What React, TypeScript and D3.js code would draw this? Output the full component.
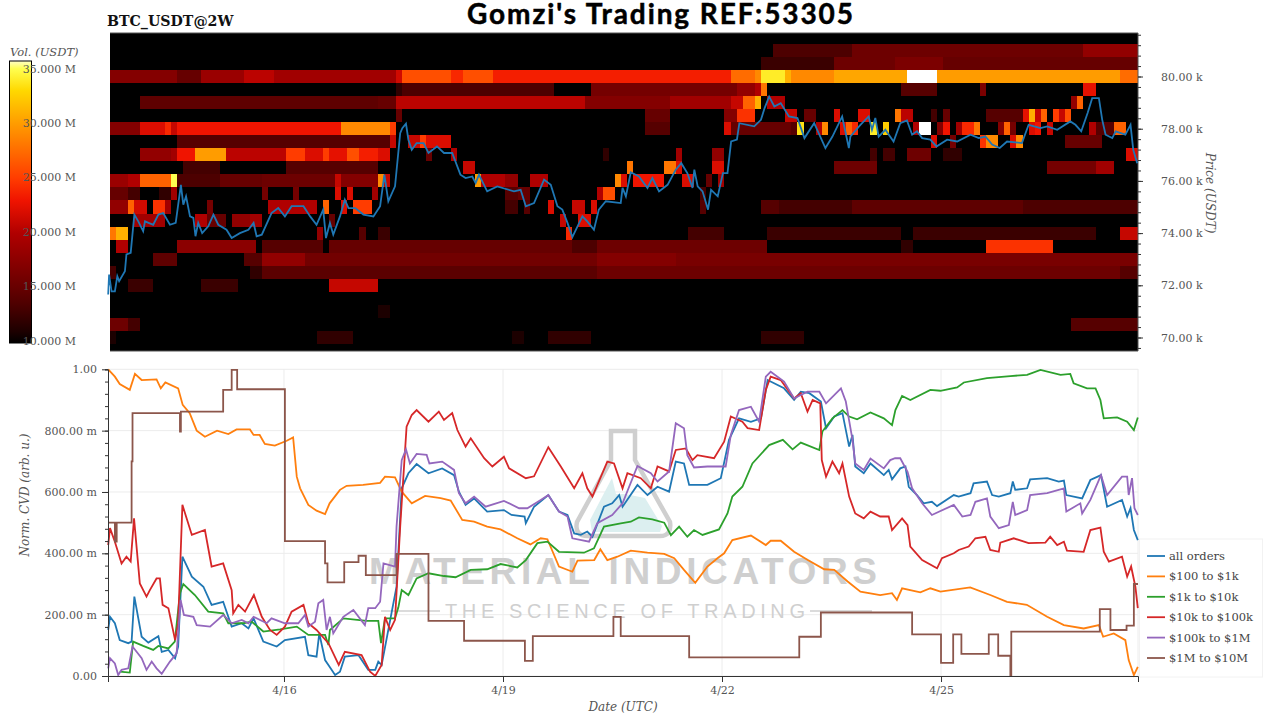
import React, { useEffect, useRef } from 'react';
import * as d3 from 'd3';

type Pt = [number, number];
type Run = [number, number, number];

// every time below is hours from 2024-04-16 00:00 UTC
const BASE = Date.UTC(2024, 3, 16);
const HOUR = 3600000;
const T_START = -57.86;
const T_END = 280.76;
const HEAT_START = -57.2;
const HEAT_COLS = 169;

const priceTicks = [70000, 72000, 74000, 76000, 78000, 80000];
const normTicks = [0, 0.2, 0.4, 0.6, 0.8, 1];
const volTicks = [10, 15, 20, 25, 30, 35];
const dateTicks = [0, 72, 144, 216];
const dateLabels = ['4/16', '4/19', '4/22', '4/25'];

const seriesNames = ['all orders', '$100 to $1k', '$1k to $10k', '$10k to $100k', '$100k to $1M', '$1M to $10M'];
const seriesColors = ['#1f77b4', '#ff7f0e', '#2ca02c', '#d62728', '#9467bd', '#8c564b'];

// price levels of the heatmap, with runs of [first column, end column, volume in M]
const heatPrices = [81000, 80500, 80000, 79500, 79000, 78500, 78000, 77500, 77000, 76500, 76000, 75500, 75000, 74500, 74000, 73500, 73000, 72500, 72000, 71000, 70500, 70000];
const heatRuns: Run[][] = [
  [[109, 122, 13.5], [122, 160, 15.5], [160, 169, 18]],
  [[107, 119, 12.5], [119, 129, 15.5], [129, 137, 16.5], [137, 169, 15]],
  [[0, 11, 17], [11, 15, 15], [15, 22, 18.5], [22, 27, 20.5], [27, 47, 19], [47, 48, 21.5], [48, 56, 26], [56, 58, 24], [58, 63, 26], [63, 102, 23.5], [102, 106, 27.5], [106, 107, 29], [107, 111, 34], [111, 112, 31], [112, 119, 29], [119, 131, 30.5], [131, 136, 37], [136, 166, 30], [166, 169, 27.5]],
  [[47, 48, 12], [48, 73, 13.5], [79, 103, 16], [103, 106, 18], [106, 107, 20], [107, 108, 28], [130, 136, 14], [143, 144, 16.5], [160, 162, 22.5]],
  [[5, 44, 14.5], [44, 47, 15], [47, 78, 20.5], [78, 92, 17], [92, 102, 19], [102, 104, 21], [104, 106, 27], [106, 107, 31], [108, 111, 20], [158, 159, 18], [159, 160, 27]],
  [[47, 48, 15], [88, 92, 15], [101, 103, 17], [103, 106, 24.5], [111, 113, 21], [114, 116, 15], [119, 120, 22], [123, 125, 22], [129, 130, 28], [130, 132, 20.5], [135, 136, 13], [137, 138, 15], [144, 150, 14], [150, 151, 22.5], [151, 152, 31], [152, 153, 21], [153, 154, 27], [155, 156, 25], [156, 157, 21], [157, 158, 26]],
  [[0, 5, 17], [5, 9, 22], [9, 10, 24], [10, 11, 21], [11, 38, 23], [38, 46, 29], [46, 47, 25], [88, 92, 14], [101, 102, 22], [102, 112, 15], [112, 113, 14], [113, 114, 33.5], [116, 117, 20], [117, 118, 29], [120, 121, 22], [121, 122, 27], [122, 123, 24], [125, 126, 34], [127, 128, 32.5], [132, 133, 20], [133, 135, 37], [136, 137, 17], [137, 138, 23], [139, 140, 19], [140, 142, 24], [142, 143, 28], [146, 147, 17], [147, 148, 27], [148, 149, 16], [151, 152, 22], [152, 153, 23], [154, 155, 21], [161, 162, 20], [162, 165, 14], [165, 167, 27]],
  [[11, 46, 14], [46, 47, 21], [49, 51, 21], [51, 52, 25], [52, 56, 22], [135, 136, 22], [138, 139, 16], [143, 144, 24.5], [144, 146, 29], [148, 149, 22], [149, 150, 29], [157, 163, 15]],
  [[5, 10, 18], [10, 11, 19], [11, 14, 23], [14, 19, 30], [19, 29, 20.5], [29, 32, 25], [32, 35, 22], [35, 36, 25], [36, 39, 22.5], [39, 41, 26], [41, 44, 23.5], [44, 46, 22], [52, 53, 15], [56, 57, 20], [81, 82, 12], [93, 94, 19], [99, 101, 18], [125, 126, 13], [127, 129, 13], [131, 135, 15.5], [137, 140, 12], [167, 169, 22]],
  [[12, 18, 13], [29, 44, 14], [58, 60, 21], [85, 86, 28], [91, 93, 28], [93, 94, 22], [99, 101, 22], [119, 126, 15.5], [154, 162, 16], [162, 165, 19]],
  [[0, 3, 18.5], [3, 5, 20], [5, 10, 27], [10, 11, 35], [11, 18, 13.5], [18, 25, 15], [25, 37, 15.5], [37, 38, 21], [38, 44, 17], [44, 45, 29], [45, 46, 21], [60, 61, 30], [61, 65, 20], [65, 67, 18], [69, 72, 20], [83, 84, 29], [84, 85, 22], [86, 91, 23], [94, 96, 22], [98, 99, 15], [100, 101, 19]],
  [[0, 3, 15], [3, 5, 13], [8, 10, 12], [10, 11, 19], [25, 26, 16], [30, 31, 16], [37, 38, 22], [39, 40, 22], [43, 44, 19], [65, 67, 14], [67, 69, 15], [80, 81, 20], [81, 83, 26], [97, 98, 13]],
  [[0, 3, 18], [3, 4, 27], [4, 6, 21.5], [7, 9, 24.5], [9, 10, 19], [16, 17, 16], [26, 34, 20], [35, 36, 27], [38, 39, 22], [40, 43, 25], [65, 67, 13], [68, 69, 14], [72, 73, 22], [76, 78, 21], [79, 80, 22], [97, 98, 14], [107, 110, 14], [110, 122, 13], [122, 150, 14.5], [150, 169, 13.5]],
  [[4, 9, 19], [14, 16, 20], [16, 19, 15], [20, 23, 18], [23, 25, 19], [36, 37, 15], [74, 75, 21], [77, 79, 22]],
  [[0, 1, 28], [1, 3, 31], [34, 35, 18], [41, 42, 14], [44, 46, 12.5], [75, 76, 24], [95, 101, 13], [108, 130, 12.5], [132, 162, 12.5], [166, 169, 21]],
  [[1, 3, 20], [11, 24, 17.5], [25, 35, 14], [36, 76, 15], [76, 80, 13.5], [80, 108, 15.5], [130, 132, 12], [144, 155, 24.5]],
  [[7, 11, 14.5], [22, 25, 14], [25, 32, 18], [32, 80, 15.8], [80, 93, 17], [93, 169, 16.3]],
  [[0, 1, 13], [23, 25, 12], [25, 80, 14.3], [80, 166, 15.5], [166, 169, 14]],
  [[3, 7, 12.5], [15, 21, 12.5], [36, 44, 21]],
  [[44, 46, 11]],
  [[0, 3, 15.5], [3, 5, 13], [158, 169, 14]],
  [[0, 1, 11], [34, 40, 12], [66, 68, 11], [72, 79, 12], [107, 114, 12]],
];

const priceLine: Pt[] = [
  [-57.8, 71650], [-57.5, 72410], [-56.7, 71770], [-55.6, 71770], [-54.8, 72350], [-54.2, 72160], [-52.3, 72540], [-51.8, 73180], [-50.4, 73240], [-49.2, 74710], [-47.9, 74450], [-46.3, 74070], [-45.7, 74450], [-43, 74320], [-41.3, 74710], [-39.7, 74770], [-37.5, 74320], [-35.6, 74390], [-33.9, 75850], [-33.1, 75090], [-32.2, 75410], [-30.9, 74640], [-29.8, 74580], [-29.1, 73880], [-28.2, 74390], [-26.9, 74000], [-24.9, 74260], [-23.2, 74710], [-21.6, 74320], [-18.9, 74130], [-17.2, 73810], [-14.5, 74000], [-11.7, 74130], [-10, 74390], [-9, 73880], [-7.3, 73940], [-4.1, 74770], [-1.9, 74960], [0.3, 74640], [2.5, 75030], [6.4, 75030], [8.6, 74640], [10.7, 74320], [12.9, 74900], [13.8, 73810], [15.1, 74390], [16.2, 73940], [18.4, 74640], [20, 75280], [21.2, 74960], [23.4, 74960], [26.1, 74710], [29.4, 74640], [31.6, 75030], [33, 76240], [34.3, 75220], [36.5, 75790], [38.2, 77830], [38.9, 78020], [40.1, 78190], [40.9, 77580], [42, 77190], [43.6, 77450], [45.9, 77450], [47.5, 77070],
  [50.3, 77320], [52.6, 77070], [55.3, 77070], [58, 76240], [59.7, 76110], [61.9, 76170], [63, 75920], [64.1, 76240], [66.8, 75600], [70.1, 75790], [75.6, 75600], [77.8, 75660], [79.5, 75030], [82.2, 75150], [85.5, 76050], [87.7, 75850], [89.9, 75030], [91.5, 74900], [93.2, 74390], [94.8, 73850], [96.5, 74260], [98.1, 74640], [99.7, 74450], [101.9, 74130], [103.5, 74900], [105.8, 75220], [110.7, 75150], [111.3, 75730], [112.4, 75410], [114, 76330], [116.7, 76170], [119.5, 75730], [121.1, 76110], [123.3, 75600], [126.1, 75850], [128.8, 76430], [130.6, 76680], [132.6, 76300], [134.3, 75730], [134.9, 76430], [136, 75790], [137.6, 75600], [139.4, 74900], [140.4, 75660], [142.6, 75410], [144.3, 76300], [145.8, 76300], [147, 77510], [148.9, 77580], [149.7, 78210], [154.6, 78090], [156.8, 78340], [158, 78790], [159.5, 79230], [161.2, 78850], [163.3, 78980], [166, 78470], [168.8, 78410], [171.1, 77640], [174.3, 78210], [178, 77260], [180.3, 77700], [183.5, 78470], [185.7, 77260],
  [186.2, 77700], [189.5, 78150], [192.2, 78470], [193.3, 77960], [194.4, 78410], [195.5, 77700], [197.7, 77960], [200.4, 77510], [202.6, 78210], [204.8, 78320], [206.5, 77770], [208.1, 77900], [209.8, 77640], [212.5, 77580], [214.5, 77320], [218, 77580], [221.3, 77510], [225.7, 77770], [228.4, 77640], [230.6, 77700], [232.8, 77390], [235.3, 77260], [237.7, 77510], [242.6, 77450], [244.8, 78150], [248.7, 78020], [250.9, 78090], [254.2, 77960], [258.5, 78280], [260.2, 78150], [262.1, 77900], [264.2, 78600], [265.7, 79170], [267.9, 79170], [269, 78340], [270.1, 77770], [272.3, 77640], [273.4, 77900], [276.6, 77770], [278.3, 78150], [279.2, 77190], [280.5, 76680],
];

const allOrders: Pt[] = [
  [-57.8, 0.15], [-57.2, 0.193], [-55.6, 0.172], [-54, 0.117], [-51.2, 0.107], [-50.1, 0.112], [-49.2, 0.259], [-46.8, 0.128], [-44.6, 0.109], [-41.3, 0.13], [-40.2, 0.079], [-38, 0.085], [-35.8, 0.058], [-34.8, 0.096], [-33.4, 0.389], [-30.3, 0.324], [-26.5, 0.291], [-23.8, 0.232], [-20, 0.242], [-17.2, 0.161], [-13.9, 0.172], [-11.7, 0.155], [-10, 0.188], [-6.8, 0.112], [-2.4, 0.096], [0.3, 0.117], [6.9, 0.128], [8, 0.068], [10.7, 0.063], [11.6, 0.139], [13.5, 0.052], [14.6, 0.036], [16.8, 0.003], [18.4, 0.014], [20, 0.063], [24.5, 0.068], [27.7, 0.02], [30, 0.02], [31, 0.047], [32.1, 0.036], [37, 0.291], [38.7, 0.612], [40.9, 0.661], [43.6, 0.691], [47.5, 0.661],
  [52, 0.677], [55.9, 0.655], [57.5, 0.601], [59.7, 0.558], [62.5, 0.579], [66.8, 0.536], [72.3, 0.541], [74.8, 0.525], [79.1, 0.52], [79.5, 0.498], [82.2, 0.552], [86.9, 0.59], [90.4, 0.536], [93.2, 0.525], [95.4, 0.465], [97.6, 0.46], [99.7, 0.471], [101.4, 0.454], [105.2, 0.552], [107.9, 0.563], [110.2, 0.59], [111.3, 0.552], [116.2, 0.623], [119.5, 0.59], [122.8, 0.617], [126.6, 0.601], [128.8, 0.699], [131.5, 0.693], [133.2, 0.623], [139.2, 0.623], [143.6, 0.645], [146.3, 0.77], [149.6, 0.84], [153.5, 0.829], [156.8, 0.84], [159, 0.965], [164.4, 0.938], [167.7, 0.9], [169.9, 0.927], [172.7, 0.922], [176.5, 0.895], [178.2, 0.808], [180.9, 0.846], [183.6, 0.857], [185.8, 0.748], [186.9, 0.786],
  [187.8, 0.683], [190.6, 0.661], [192.8, 0.693], [197.2, 0.655], [198.8, 0.672], [199.9, 0.641], [202.6, 0.677], [204.3, 0.683], [205.4, 0.617], [208.1, 0.59], [210.3, 0.563], [213, 0.568], [214.7, 0.554], [220.2, 0.59], [221.8, 0.585], [225.7, 0.596], [226.7, 0.628], [231.1, 0.634], [232.8, 0.59], [235, 0.585], [238.8, 0.596], [239.6, 0.634], [240.4, 0.607], [244.3, 0.612], [245.3, 0.641], [250.9, 0.645], [254.7, 0.634], [256.4, 0.637], [257.2, 0.59], [262.4, 0.579], [265.1, 0.639], [268.6, 0.655], [270.6, 0.552], [275.5, 0.574], [277.2, 0.52], [278.3, 0.547], [279.4, 0.476], [280.7, 0.443],
];

const small: Pt[] = [
  [-57.8, 1], [-55.6, 0.976], [-54, 0.952], [-50.7, 0.933], [-49, 0.985], [-46.8, 0.965], [-41.9, 0.967], [-40.5, 0.938], [-39, 0.957], [-34.8, 0.938], [-33.3, 0.884], [-31, 0.857], [-28.7, 0.8], [-26, 0.78], [-22, 0.8], [-18.3, 0.789], [-15.6, 0.804], [-11.2, 0.804], [-10, 0.786], [-8, 0.786], [-6.3, 0.757], [-3, 0.751], [0.9, 0.767], [3, 0.778], [4.2, 0.65], [5.3, 0.612], [8, 0.558], [10.7, 0.539], [13.5, 0.528], [15, 0.563], [18.4, 0.607], [20.6, 0.62], [26, 0.623], [31.6, 0.63], [33.2, 0.65], [36.5, 0.648], [38.7, 0.601], [42, 0.563], [46.4, 0.587],
  [51.5, 0.58], [54.8, 0.572], [58.6, 0.509], [62.5, 0.503], [66.8, 0.487], [71.2, 0.478], [76.7, 0.449], [81, 0.429], [84.4, 0.449], [86.6, 0.446], [90.4, 0.357], [94.8, 0.34], [96.5, 0.376], [102, 0.378], [104, 0.413], [106.3, 0.378], [109.6, 0.389], [114, 0.409], [119.5, 0.402], [125, 0.398], [128.3, 0.384], [131.5, 0.346], [135.2, 0.304], [139.2, 0.357], [142.5, 0.384], [144.7, 0.4], [147.4, 0.443], [153.5, 0.458], [158.4, 0.427], [160, 0.441], [163.3, 0.441], [167.7, 0.405], [172.2, 0.378], [177.6, 0.348], [180.9, 0.346], [185.3, 0.308],
  [189.5, 0.275], [196, 0.264], [199.9, 0.27], [201.5, 0.248], [203.2, 0.286], [209.2, 0.273], [212.5, 0.286], [215.8, 0.275], [225.6, 0.289], [232.2, 0.264], [237.7, 0.242], [244.2, 0.232], [250.9, 0.193], [256.4, 0.166], [262.9, 0.155], [267.9, 0.166], [269.3, 0.128], [272.8, 0.139], [276.6, 0.117], [277.7, 0.052], [279.4, 0.003], [280.7, 0.03],
];

const medium: Pt[] = [
  [-54, 0.014], [-50.7, 0.011], [-49.6, 0.112], [-46.3, 0.098], [-43, 0.085], [-41.3, 0.098], [-38, 0.09], [-35.9, 0.112], [-34.2, 0.27], [-33.1, 0.3], [-29.3, 0.264], [-24.9, 0.21], [-20, 0.204], [-18.3, 0.172], [-13.4, 0.172], [-10.6, 0.177], [-6.8, 0.145], [-1.3, 0.152], [4.2, 0.161], [8, 0.134], [13.5, 0.134], [14.6, 0.101], [15.1, 0.15], [19.5, 0.188], [27.2, 0.18], [31, 0.18], [31.9, 0.107], [33.2, 0.188], [36.5, 0.188], [37.6, 0.224], [38.7, 0.28], [40.9, 0.264], [43.6, 0.318], [47.5, 0.335],
  [52.6, 0.326], [56.4, 0.322], [61.4, 0.346], [66.8, 0.348], [71.2, 0.365], [76.7, 0.354], [79.5, 0.378], [83.3, 0.433], [86.6, 0.438], [90.4, 0.405], [98.6, 0.402], [101.9, 0.416], [105.2, 0.487], [110.7, 0.498], [114, 0.503], [116.7, 0.517], [121.1, 0.511], [125, 0.5], [127.2, 0.459], [129.9, 0.487], [132.6, 0.454], [134.8, 0.476], [137.6, 0.46], [143, 0.478], [145.8, 0.53], [147.4, 0.585], [150.7, 0.617], [154, 0.693], [159.5, 0.753], [164, 0.77], [167.2, 0.739], [169.9, 0.761], [176, 0.737], [177, 0.797], [180.3, 0.84], [183.6, 0.867], [185.8, 0.846],
  [188.4, 0.837], [192.8, 0.859], [197.2, 0.84], [199.9, 0.818], [201, 0.867], [203.2, 0.913], [205.9, 0.9], [212.5, 0.933], [215.8, 0.93], [221.3, 0.941], [223.5, 0.957], [231.1, 0.971], [238.8, 0.978], [244.3, 0.982], [248.7, 0.998], [255.3, 0.982], [258.5, 0.985], [259.6, 0.954], [264, 0.938], [266.8, 0.938], [268.4, 0.9], [269.5, 0.84], [273.9, 0.843], [277.2, 0.829], [279.4, 0.802], [280.7, 0.843],
];

const large: Pt[] = [
  [-57.8, 0.427], [-57.2, 0.482], [-55.6, 0.438], [-53.4, 0.367], [-51.8, 0.389], [-50.4, 0.373], [-49.3, 0.514], [-47.4, 0.302], [-45.2, 0.259], [-44.1, 0.28], [-41.9, 0.318], [-40.8, 0.318], [-39.9, 0.232], [-38, 0.221], [-35.8, 0.117], [-34.8, 0.172], [-33.4, 0.558], [-30.3, 0.46], [-26, 0.476], [-23.8, 0.357], [-20, 0.367], [-17.2, 0.28], [-16.7, 0.204], [-15, 0.232], [-12.8, 0.21], [-9.9, 0.264], [-7.3, 0.193], [-4.6, 0.15], [-2.4, 0.134], [0.3, 0.161], [2.5, 0.21], [6.4, 0.232], [8, 0.172], [10.7, 0.15], [14.6, 0.107], [18, 0.036], [20, 0.079], [25.5, 0.068], [28.3, 0.014], [30, 0], [32.1, 0.036], [33.2, 0.193], [34.9, 0.15], [36.5, 0.183], [38.2, 0.487], [40.3, 0.813], [42, 0.851], [43.6, 0.867], [47.5, 0.829],
  [50.9, 0.862], [52.6, 0.835], [55.3, 0.857], [57, 0.802], [59.7, 0.748], [61.4, 0.775], [65.8, 0.71], [68.5, 0.683], [72.3, 0.715], [74, 0.677], [79.5, 0.645], [82.2, 0.651], [86.9, 0.746], [91, 0.683], [95.4, 0.612], [98.1, 0.661], [99.7, 0.612], [101.4, 0.585], [106.3, 0.699], [108.5, 0.693], [111.3, 0.612], [112.9, 0.661], [117.3, 0.645], [120.6, 0.612], [122.8, 0.683], [126.6, 0.667], [128.8, 0.737], [132.1, 0.742], [134.3, 0.704], [135.9, 0.72], [141.4, 0.71], [144.7, 0.764], [146.9, 0.846], [150.7, 0.829], [152.4, 0.808], [156.2, 0.802], [158.4, 0.933], [160, 0.976], [163.3, 0.965], [167.7, 0.905], [169.9, 0.922], [172.1, 0.862], [173.8, 0.9], [176.3, 0.889], [176.8, 0.704], [178.2, 0.65], [180.3, 0.699], [182.5, 0.661], [183.6, 0.693], [185.8, 0.585],
  [187.8, 0.53], [190.6, 0.514], [192.8, 0.536], [196, 0.52], [198.8, 0.52], [199.9, 0.476], [203.2, 0.514], [205, 0.492], [205.9, 0.422], [209.8, 0.378], [214.7, 0.351], [216.3, 0.384], [220.2, 0.4], [221.8, 0.411], [225.1, 0.422], [227.3, 0.449], [230.6, 0.454], [232.2, 0.411], [235, 0.405], [235.5, 0.435], [239.9, 0.449], [244.8, 0.433], [250.3, 0.435], [251.9, 0.454], [254.2, 0.427], [256.4, 0.438], [257.4, 0.409], [262.9, 0.405], [265.1, 0.476], [268.4, 0.484], [269.5, 0.405], [271.2, 0.373], [275.5, 0.389], [277.2, 0.324], [278.5, 0.357], [279.9, 0.291], [280.7, 0.221],
];

const whale: Pt[] = [
  [-57.8, 0.025], [-57.2, 0.058], [-55.6, 0.041], [-54.5, 0.003], [-53.4, 0.02], [-51.2, 0.025], [-49.8, 0.096], [-46.8, 0.058], [-45.2, 0.02], [-43.5, 0.047], [-41.9, 0.025], [-40.2, 0.007], [-37.5, 0.047], [-35.3, 0.074], [-34, 0.248], [-32.9, 0.199], [-29.8, 0.193], [-28.7, 0.166], [-24.3, 0.161], [-20, 0.199], [-17.2, 0.172], [-13.9, 0.183], [-11.7, 0.172], [-10, 0.193], [-5.7, 0.172], [-4.1, 0.188], [0.3, 0.172], [4.7, 0.172], [6.9, 0.199], [8, 0.161], [10.2, 0.177], [11.3, 0.237], [12.9, 0.248], [14, 0.15], [15.1, 0.193], [16.2, 0.139], [19.5, 0.193], [22.8, 0.215], [26.6, 0.166], [27.7, 0.221], [30, 0.221], [31.6, 0.242], [32.7, 0.367], [36.5, 0.357], [37, 0.487], [38.7, 0.704], [40.1, 0.739], [41.4, 0.693], [43.6, 0.724], [46.9, 0.721], [47.8, 0.693],
  [52, 0.699], [55.9, 0.672], [57.5, 0.596], [59.7, 0.563], [62.5, 0.585], [66.3, 0.552], [72.3, 0.571], [77.3, 0.547], [80, 0.547], [84.4, 0.574], [86.9, 0.59], [90.4, 0.536], [93.2, 0.52], [94.8, 0.449], [100.3, 0.438], [103, 0.498], [107.9, 0.525], [111.3, 0.563], [116.2, 0.685], [120.6, 0.661], [122.8, 0.634], [126.6, 0.667], [128.8, 0.824], [131.5, 0.808], [132.6, 0.72], [134.8, 0.68], [139.2, 0.683], [145.2, 0.683], [146.9, 0.786], [149.6, 0.867], [153.5, 0.878], [156.2, 0.829], [158.4, 0.976], [160, 0.992], [164.4, 0.96], [167.7, 0.905], [172.1, 0.927], [176, 0.927], [178.2, 0.889], [183.1, 0.938], [184.7, 0.895], [186.9, 0.77],
  [187.8, 0.693], [190.6, 0.672], [192.8, 0.709], [197.2, 0.677], [199.3, 0.704], [200.9, 0.71], [202.6, 0.71], [205, 0.666], [206.5, 0.612], [209.8, 0.563], [213, 0.525], [220.2, 0.558], [223, 0.52], [225.7, 0.525], [227.3, 0.568], [231.1, 0.579], [232.2, 0.52], [235, 0.482], [238.3, 0.492], [239.6, 0.568], [240.4, 0.525], [244.3, 0.541], [245.3, 0.59], [250.9, 0.596], [256.4, 0.612], [257.2, 0.536], [261.8, 0.563], [262.4, 0.53], [265.1, 0.574], [268.6, 0.655], [270.6, 0.59], [275.5, 0.65], [277.2, 0.65], [277.7, 0.59], [278.8, 0.645], [279.6, 0.547], [280.7, 0.525],
];

// held until the next point, so the line is drawn as steps
const block: Pt[] = [
  [-57.8, 0.5], [-55.6, 0.438], [-55, 0.5], [-50.1, 0.7], [-49.8, 0.857], [-34.2, 0.797], [-33.9, 0.862], [-20, 0.933], [-17.2, 0.998], [-15.4, 0.935], [0.3, 0.44], [13.5, 0.367], [14.3, 0.305], [19.8, 0.371], [24.5, 0.392], [26.9, 0.329], [37, 0.398], [47.5, 0.18], [59.2, 0.115], [79.2, 0.049], [81.8, 0.13], [108.3, 0.193], [110.7, 0.13], [133.2, 0.061], [169.4, 0.128], [176.5, 0.207], [206.5, 0.136], [216, 0.043], [220, 0.136], [222.7, 0.072], [231.7, 0.136], [234.8, 0.066], [238.8, 0], [239.1, 0.145], [268.2, 0.218], [271.7, 0.15], [277, 0.164], [279.4, 0.3], [280.76, 0.3],
];

const seriesData = [allOrders, small, medium, large, whale, block];

const hotDomain = [10, 11, 12, 13, 14, 15, 20, 23, 25, 30, 33, 35, 35.7, 37];
const hotColors = ['#000000', '#1c0000', '#300000', '#440000', '#560000', '#660000', '#b00000', '#f01400', '#ff3c00', '#ff9c00', '#ffd800', '#ffff50', '#ffffc8', '#ffffff'];

const serif = '"DejaVu Serif", serif';

const App: React.FC = () => {
  const svgRef = useRef<SVGSVGElement>(null);

  useEffect(() => {
    if (!svgRef.current) return;
    const svg = d3.select(svgRef.current);
    svg.selectAll('*').remove();

    const toDate = (h: number) => new Date(BASE + h * HOUR);
    const x = d3.scaleUtc().domain([toDate(T_START), toDate(T_END)]).range([108, 1138]);
    const yPrice = d3.scaleLinear().domain([69483, 81667]).range([351, 33]);
    const yNorm = d3.scaleLinear().domain([0, 1]).range([676, 369.3]);
    const yVol = d3.scaleLinear().domain([10, 35.7]).range([340.5, 61]);
    const hot = d3.scaleLinear<string>().domain(hotDomain).range(hotColors).clamp(true);

    const top = svg.append('g');
    const heatLeft = x(toDate(HEAT_START));
    const heatRight = x(toDate(HEAT_START + HEAT_COLS * 2));

    svg.append('defs').append('clipPath').attr('id', 'heat-clip')
      .append('rect')
      .attr('x', heatLeft).attr('y', 33)
      .attr('width', heatRight - heatLeft).attr('height', 318);

    // Heatmap
    const heat = top.append('g').attr('clip-path', 'url(#heat-clip)').attr('shape-rendering', 'crispEdges');
    heat.append('rect')
      .attr('x', heatLeft).attr('y', 33)
      .attr('width', heatRight - heatLeft).attr('height', 318)
      .attr('fill', '#000');
    heatPrices.forEach((price, row) => {
      heat.selectAll(null)
        .data(heatRuns[row])
        .enter()
        .append('rect')
        .attr('x', d => x(toDate(HEAT_START + d[0] * 2)))
        .attr('y', yPrice(price + 250))
        .attr('width', d => x(toDate(HEAT_START + d[1] * 2)) - x(toDate(HEAT_START + d[0] * 2)))
        .attr('height', yPrice(price - 250) - yPrice(price + 250))
        .attr('fill', d => hot(d[2]));
    });

    // Frame and price axis
    top.append('path')
      .attr('d', `M${heatLeft},33H1138V351H${heatLeft}`)
      .attr('fill', 'none').attr('stroke', '#555').attr('stroke-width', 1);

    const styleAxis = (g: d3.Selection<SVGGElement, unknown, null, undefined>) => {
      g.select('.domain').remove();
      g.selectAll('.tick line').attr('stroke', '#333').attr('stroke-width', 1);
      g.selectAll('.tick text')
        .attr('fill', '#555')
        .style('font-family', serif)
        .style('font-size', '11px');
    };

    top.append('g')
      .attr('transform', 'translate(1138,0)')
      .call(d3.axisRight(yPrice).tickValues(d3.range(69600, 81601, 400)).tickSize(3).tickFormat(() => ''))
      .call(styleAxis);
    top.append('g')
      .attr('transform', 'translate(1138,0)')
      .call(d3.axisRight(yPrice).tickValues(priceTicks).tickSize(5).tickPadding(18)
        .tickFormat(d => `${(+d / 1000).toFixed(2)} k`))
      .call(styleAxis);

    svg.append('text')
      .attr('transform', 'translate(1206,193) rotate(90)')
      .attr('text-anchor', 'middle')
      .attr('fill', '#555')
      .style('font-family', serif).style('font-style', 'italic').style('font-size', '12px')
      .text('Price (USDT)');

    // Colour bar, its tick labels sit on top of it
    const gradient = svg.select('defs').append('linearGradient')
      .attr('id', 'vol-bar').attr('x1', 0).attr('x2', 0).attr('y1', 1).attr('y2', 0);
    gradient.selectAll('stop')
      .data(hotDomain.filter(d => d <= 35.7))
      .enter()
      .append('stop')
      .attr('offset', d => (d - 10) / 25.7)
      .attr('stop-color', d => hot(d));
    svg.append('rect')
      .attr('x', 9.5).attr('y', 61).attr('width', 22).attr('height', 282)
      .attr('fill', 'url(#vol-bar)').attr('stroke', '#000').attr('stroke-width', 1);

    svg.append('g').selectAll('text')
      .data(volTicks)
      .enter()
      .append('text')
      .attr('x', 76)
      .attr('y', d => yVol(d) + 4)
      .attr('text-anchor', 'end')
      .attr('fill', '#555')
      .style('font-family', serif).style('font-size', '11px')
      .text(d => `${d}.000 M`);

    svg.append('text')
      .attr('x', 10).attr('y', 56)
      .attr('fill', '#555')
      .style('font-family', serif).style('font-style', 'italic').style('font-size', '11.5px')
      .text('Vol. (USDT)');

    // Price line
    const priceGen = d3.line<Pt>()
      .x(d => x(toDate(d[0])))
      .y(d => yPrice(d[1]));
    top.append('path')
      .attr('d', priceGen(priceLine))
      .attr('fill', 'none')
      .attr('stroke', '#1f77b4')
      .attr('stroke-width', 1.8);

    // Titles
    svg.append('text')
      .attr('x', 107).attr('y', 26)
      .attr('fill', '#111')
      .style('font-family', serif).style('font-weight', 'bold').style('font-size', '14.2px')
      .text('BTC_USDT@2W');
    svg.append('text')
      .attr('x', 660).attr('y', 24)
      .attr('text-anchor', 'middle')
      .attr('textLength', 386)
      .attr('lengthAdjust', 'spacing')
      .attr('fill', '#000')
      .attr('stroke', '#000')
      .attr('stroke-width', 0.5)
      .style('font-family', 'Lato, sans-serif').style('font-weight', 'bold').style('font-size', '28px')
      .text("Gomzi's Trading REF:53305");

    // Lower panel: grid, watermark, axes, lines
    const low = svg.append('g');
    low.append('g').selectAll('line')
      .data(normTicks)
      .enter()
      .append('line')
      .attr('x1', 108).attr('x2', 1138)
      .attr('y1', d => yNorm(d)).attr('y2', d => yNorm(d))
      .attr('stroke', '#ececec');
    low.append('g').selectAll('line')
      .data(dateTicks)
      .enter()
      .append('line')
      .attr('x1', d => x(toDate(d))).attr('x2', d => x(toDate(d)))
      .attr('y1', 369).attr('y2', 676)
      .attr('stroke', '#ececec');
    low.append('line')
      .attr('x1', 1138).attr('x2', 1138).attr('y1', 369).attr('y2', 676)
      .attr('stroke', '#ececec');

    const mark = low.append('g').attr('pointer-events', 'none');
    mark.append('path')
      .attr('d', 'M590,520 L612,478 L616,494 L625,494 L645,498 L662,526 L660,532 L592,532 Z')
      .attr('fill', '#dceff0');
    mark.append('path')
      .attr('d', 'M611,431 H635 V460 L670,522 Q672,536 660,536 H588 Q574,536 577,522 L611,460 Z')
      .attr('fill', 'none').attr('stroke', '#cfcfcf').attr('stroke-width', 4.5);
    mark.append('text')
      .attr('x', 623).attr('y', 584)
      .attr('text-anchor', 'middle')
      .attr('textLength', 508)
      .attr('fill', '#cfcfcf')
      .style('font-family', '"Liberation Sans", sans-serif').style('font-weight', 'bold').style('font-size', '37px')
      .text('MATERIAL INDICATORS');
    mark.append('text')
      .attr('x', 625).attr('y', 618)
      .attr('text-anchor', 'middle')
      .attr('textLength', 360)
      .attr('fill', '#cfcfcf')
      .style('font-family', '"Liberation Sans", sans-serif').style('font-size', '20px')
      .text('THE SCIENCE OF TRADING');
    mark.append('path')
      .attr('d', 'M381,611H440M810,611H872')
      .attr('stroke', '#cfcfcf').attr('stroke-width', 1.5);

    const lineGen = d3.line<Pt>()
      .x(d => x(toDate(d[0])))
      .y(d => yNorm(d[1]));
    seriesData.forEach((data, i) => {
      low.append('path')
        .attr('d', lineGen.curve(i === 5 ? d3.curveStepAfter : d3.curveLinear)(data))
        .attr('fill', 'none')
        .attr('stroke', seriesColors[i])
        .attr('stroke-width', 1.8);
    });

    const left = low.append('g').attr('transform', 'translate(108,0)');
    left.call(d3.axisLeft(yNorm).tickValues(d3.range(0, 1.001, 0.04)).tickSize(3).tickFormat(() => ''));
    left.selectAll('.tick line').attr('stroke', '#333');
    left.select('.domain').attr('stroke', '#333');
    low.append('g')
      .attr('transform', 'translate(108,0)')
      .call(d3.axisLeft(yNorm).tickValues(normTicks).tickSize(6).tickPadding(5)
        .tickFormat(d => (+d === 0 || +d === 1 ? (+d).toFixed(2) : `${Math.round(+d * 1000)}.00 m`)))
      .call(styleAxis);

    const bottom = low.append('g').attr('transform', 'translate(0,676)');
    bottom.call(d3.axisBottom(x).tickValues(dateTicks.map(toDate)).tickSize(6).tickPadding(4)
      .tickFormat((_, i) => dateLabels[i]));
    bottom.select('.domain').attr('stroke', '#333');
    bottom.selectAll('.tick line').attr('stroke', '#333');
    bottom.selectAll('.tick text')
      .attr('fill', '#555')
      .style('font-family', serif)
      .style('font-size', '11px');

    svg.append('text')
      .attr('transform', 'translate(29,495) rotate(-90)')
      .attr('text-anchor', 'middle')
      .attr('fill', '#555')
      .style('font-family', serif).style('font-style', 'italic').style('font-size', '12px')
      .text('Norm. CVD (arb. u.)');
    svg.append('text')
      .attr('x', 623).attr('y', 711)
      .attr('text-anchor', 'middle')
      .attr('fill', '#555')
      .style('font-family', serif).style('font-style', 'italic').style('font-size', '12px')
      .text('Date (UTC)');

    // Legend
    const legend = svg.append('g');
    legend.append('rect')
      .attr('x', 1139.5).attr('y', 539).attr('width', 123).attr('height', 138)
      .attr('fill', '#fff').attr('stroke', '#f2f2f2');
    const legendY = d3.scalePoint<string>().domain(seriesNames).range([556, 658]);
    const entry = legend.selectAll('g')
      .data(seriesNames)
      .enter()
      .append('g')
      .attr('transform', d => `translate(0,${legendY(d)})`);
    entry.append('line')
      .attr('x1', 1147).attr('x2', 1165)
      .attr('stroke', (_, i) => seriesColors[i])
      .attr('stroke-width', 1.8);
    entry.append('text')
      .attr('x', 1169).attr('y', 4)
      .attr('fill', '#444')
      .style('font-family', serif).style('font-size', '11.5px')
      .text(d => d);
  }, []);

  return (
    <svg
      ref={svgRef}
      width={1280}
      height={720}
      style={{ position: 'absolute', left: 0, top: 0, background: '#fff' }}
    />
  );
};

export default App;
